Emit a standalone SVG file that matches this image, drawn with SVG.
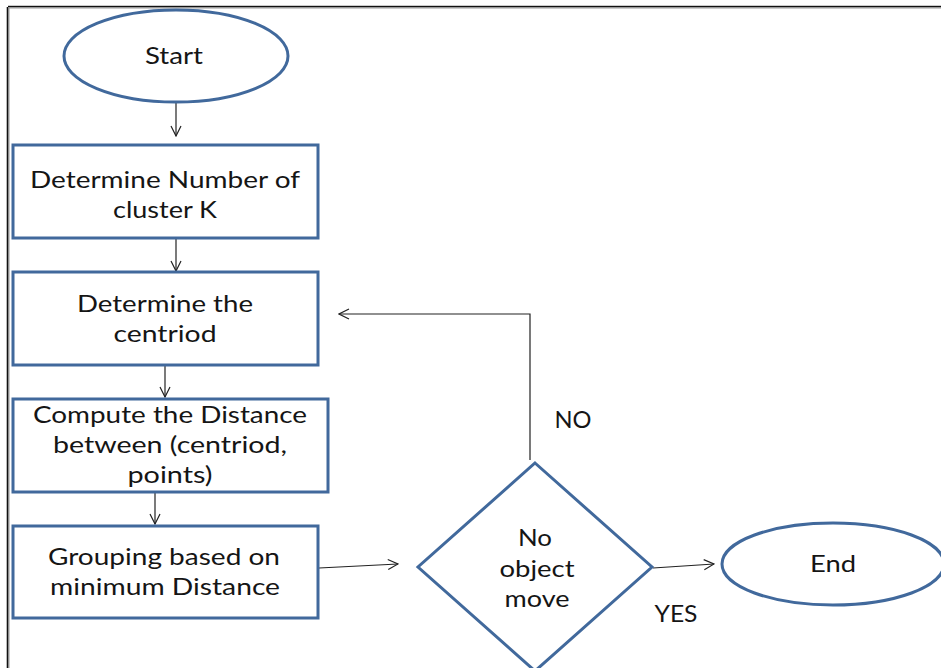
<svg xmlns="http://www.w3.org/2000/svg" width="941" height="668" viewBox="0 0 941 668">
<style>
.shape{fill:#fff;stroke:#41699c;stroke-width:3}
.conn{fill:none;stroke:#222;stroke-width:1.2}
text{font-family:Lato,"Open Sans","Liberation Sans",sans-serif;font-size:23px;fill:#151515;text-anchor:middle}
</style>
<defs>
<marker id="arr" viewBox="0 0 12 12" refX="11" refY="6" markerWidth="12" markerHeight="12" markerUnits="userSpaceOnUse" orient="auto">
<path d="M1,1 L11,6 L1,11" fill="none" stroke="#222" stroke-width="1.2"/>
</marker>
</defs>
<rect width="941" height="668" fill="#fff"/>
<g id="frame">
<line x1="8" y1="7" x2="941" y2="7" stroke="#999" stroke-width="3"/>
<line x1="8" y1="7" x2="8" y2="668" stroke="#999" stroke-width="3"/>
<line x1="8" y1="6.5" x2="941" y2="6.5" stroke="#111" stroke-width="1.2"/>
<line x1="7.5" y1="7" x2="7.5" y2="668" stroke="#111" stroke-width="1.2"/>
</g>
<g id="connectors">
<line class="conn" x1="176" y1="103" x2="176" y2="136" marker-end="url(#arr)"/>
<line class="conn" x1="176" y1="239" x2="176" y2="271" marker-end="url(#arr)"/>
<line class="conn" x1="165" y1="366" x2="165" y2="397" marker-end="url(#arr)"/>
<line class="conn" x1="155" y1="493" x2="155" y2="524" marker-end="url(#arr)"/>
<line class="conn" x1="319" y1="568" x2="398" y2="564" marker-end="url(#arr)"/>
<polyline class="conn" points="530,460 530,314 339,314" marker-end="url(#arr)"/>
<line class="conn" x1="653" y1="568" x2="714" y2="564" marker-end="url(#arr)"/>
<text x="573" y="428" textLength="37" lengthAdjust="spacingAndGlyphs">NO</text>
<text x="676" y="622" textLength="43" lengthAdjust="spacingAndGlyphs">YES</text>
</g>
<g id="start">
<ellipse class="shape" cx="176" cy="56" rx="112" ry="46"/>
<text x="174" y="64" textLength="58" lengthAdjust="spacingAndGlyphs">Start</text>
</g>
<g id="n1">
<rect class="shape" x="13" y="145" width="305" height="93"/>
<text x="165" y="188" textLength="270" lengthAdjust="spacingAndGlyphs">Determine Number of</text>
<text x="165" y="218" textLength="104" lengthAdjust="spacingAndGlyphs">cluster K</text>
</g>
<g id="n2">
<rect class="shape" x="13" y="272" width="305" height="93"/>
<text x="165" y="312" textLength="176" lengthAdjust="spacingAndGlyphs">Determine the</text>
<text x="165" y="342" textLength="103" lengthAdjust="spacingAndGlyphs">centriod</text>
</g>
<g id="n3">
<rect class="shape" x="13" y="399" width="315" height="93"/>
<text x="170" y="423" textLength="274" lengthAdjust="spacingAndGlyphs">Compute the Distance</text>
<text x="170" y="453" textLength="234" lengthAdjust="spacingAndGlyphs">between (centriod,</text>
<text x="170" y="483" textLength="85" lengthAdjust="spacingAndGlyphs">points)</text>
</g>
<g id="n4">
<rect class="shape" x="13" y="526" width="305" height="92"/>
<text x="164" y="565" textLength="232" lengthAdjust="spacingAndGlyphs">Grouping based on</text>
<text x="165" y="595" textLength="230" lengthAdjust="spacingAndGlyphs">minimum Distance</text>
</g>
<g id="decision">
<polygon class="shape" points="535,463 652,567 535,671 418,567"/>
<text x="535" y="546" textLength="34" lengthAdjust="spacingAndGlyphs">No</text>
<text x="537" y="577" textLength="75" lengthAdjust="spacingAndGlyphs">object</text>
<text x="537" y="607" textLength="65" lengthAdjust="spacingAndGlyphs">move</text>
</g>
<g id="end">
<ellipse class="shape" cx="833" cy="564" rx="111" ry="41"/>
<text x="833" y="572" textLength="46" lengthAdjust="spacingAndGlyphs">End</text>
</g>
</svg>
